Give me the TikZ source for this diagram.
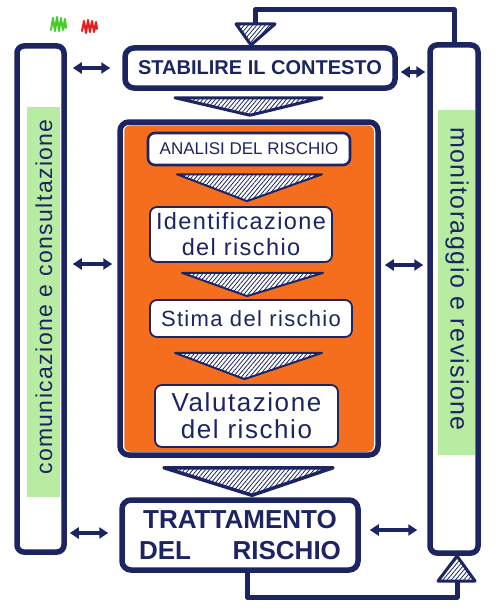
\documentclass[tikz,border=0pt]{standalone}
\usepackage{fontspec}
\setmainfont{Liberation Sans}
\newfontfamily\handfont[LetterSpace=6]{Liberation Sans}
\usetikzlibrary{arrows.meta,patterns.meta,calc}
\definecolor{navy}{RGB}{28,36,98}
\definecolor{orng}{RGB}{245,110,30}
\definecolor{hl}{RGB}{184,236,162}
\definecolor{scrg}{RGB}{70,205,40}
\definecolor{scrr}{RGB}{232,30,30}
\begin{document}
\begin{tikzpicture}[x=1pt,y=-1pt,
  thickbox/.style={draw=navy,line width=5.5pt,rounded corners=9pt,fill=white,inner sep=0pt,text=navy,align=center},
  inbox/.style={draw=navy,line width=1.8pt,rounded corners=7pt,fill=white,inner sep=0pt,text=navy,align=center},
  bar/.style={draw=navy,line width=5.5pt,rounded corners=7pt,fill=white,inner sep=0pt},
  hatchtri/.style={draw=navy,line width=2pt,line join=round,preaction={fill=white},pattern={Lines[angle=50,distance=3.2pt,line width=0.8pt]},pattern color=navy},
  dbl/.style={navy,line width=3.5pt,{Triangle[length=9pt,width=11pt]}-{Triangle[length=9pt,width=11pt]}},
  loopline/.style={draw=navy,line width=5pt,line join=round},
  hw/.style={text=navy,inner sep=0pt},
  scribble/.style={line width=2pt,line join=round,line cap=round}
]
\useasboundingbox (0,0) rectangle (500,610);

% side bars
\node[bar,minimum width=47pt,minimum height=506pt] (leftbar) at (40.5,299) {};
\fill[hl] (27,107) rectangle (60,497);
\node[hw,rotate=90,font=\handfont\fontsize{23}{26}\selectfont] (lefttext) at (44,297) {comunicazione e consultazione};
\node[bar,minimum width=48pt,minimum height=508pt] (rightbar) at (454,299) {};
\fill[hl] (438,110) rectangle (475,455);
\node[hw,rotate=-90,font=\handfont\fontsize{25}{28}\selectfont] (righttext) at (457,279) {monitoraggio e revisione};

% scribbles
\draw[scrg,scribble] (51,30) -- (53,18) -- (55,31) -- (57,17) -- (59,31) -- (61,18) -- (63,30) -- (65,19) -- (66,28);
\draw[scrr,scribble] (82,31) -- (84,21) -- (86,33) -- (88,20) -- (90,32) -- (92,21) -- (94,32) -- (96,22) -- (97,29);

% main boxes
\node[thickbox,minimum width=270pt,minimum height=40pt,font=\bfseries\fontsize{20}{22}\selectfont] (stab) at (260,68) {STABILIRE IL CONTESTO};
\node[thickbox,minimum width=258pt,minimum height=333pt] (big) at (249,288.5) {};
\fill[orng,rounded corners=6pt] ($(big.north west)+(7,6)$) rectangle ($(big.south east)+(-7,-6)$);
\node[inbox,line width=2.6pt,minimum width=202pt,minimum height=32pt,font=\fontsize{17}{19}\selectfont] (analisi) at (249,149) {ANALISI DEL RISCHIO};
\node[inbox,minimum width=182pt,minimum height=55pt,font=\handfont\fontsize{23.5}{26}\selectfont] (ident) at (241,234.5) {Identificazione\\del rischio};
\node[inbox,minimum width=202pt,minimum height=37pt,font=\handfont\fontsize{22}{24}\selectfont] (stima) at (251,318.5) {Stima del rischio};
\node[inbox,minimum width=183pt,minimum height=62pt,font=\handfont\fontsize{26}{27}\selectfont] (valut) at (246.5,416) {Valutazione\\del rischio};
\node[thickbox,minimum width=236pt,minimum height=70pt,font=\bfseries\fontsize{26}{31}\selectfont] (tratt) at (240,535) {TRATTAMENTO\\DEL\hspace{1.6em}RISCHIO};

% flow triangles
\draw[hatchtri,line width=3pt] ($(stab.south)+(-85,7)$) -- ($(stab.south)+(62,7)$) -- ($(big.north)+(1,-4)$) -- cycle;
\draw[hatchtri] ($(analisi.south)+(-72,8)$) -- ($(analisi.south)+(73,8)$) -- ($(ident.north)+(6,-5)$) -- cycle;
\draw[hatchtri] ($(ident.south)+(-59,10)$) -- ($(ident.south)+(82,10)$) -- ($(stima.north)+(-4,-3)$) -- cycle;
\draw[hatchtri] ($(stima.south)+(-76,15)$) -- ($(stima.south)+(71,15)$) -- ($(valut.north)+(-2,-5)$) -- cycle;
\draw[hatchtri,line width=3.5pt] ($(big.south)+(-85,10)$) -- ($(big.south)+(84,10)$) -- ($(tratt.north)+(12,-2)$) -- cycle;

% feedback loop
\coordinate (toptip) at (251,45);
\coordinate (topcorner) at (255,10);
\draw[loopline] (rightbar.north) |- (topcorner) -- (255,24);
\draw[hatchtri,line width=3pt] (236,24) -- (275,24) -- (toptip) -- cycle;
\coordinate (bottip) at (457,556);
\coordinate (botcorner) at (247,597);
\draw[loopline] (tratt.south -| botcorner) -- (botcorner) -| (457,581);
\draw[hatchtri,line width=3pt] (438,581) -- (475,581) -- (bottip) -- cycle;

% double arrows
\draw[dbl] ($(leftbar.east |- stab)+(6,0)$) -- ($(stab.west)+(-12,0)$);
\draw[dbl] ($(stab.east)+(3,4)$) -- ($(rightbar.west |- stab)+(-2,4)$);
\draw[dbl] ($(leftbar.east)+(6,-35)$) -- ($(big.west |- leftbar.east)+(-5,-35)$);
\draw[dbl] ($(big.east |- rightbar.west)+(4,-34)$) -- ($(rightbar.west)+(-4,-34)$);
\draw[dbl] ($(leftbar.east |- tratt)+(3,-2)$) -- ($(tratt.west)+(-11,-2)$);
\draw[dbl] ($(tratt.east)+(9,-5)$) -- ($(rightbar.west |- tratt)+(-10,-5)$);
\end{tikzpicture}
\end{document}
